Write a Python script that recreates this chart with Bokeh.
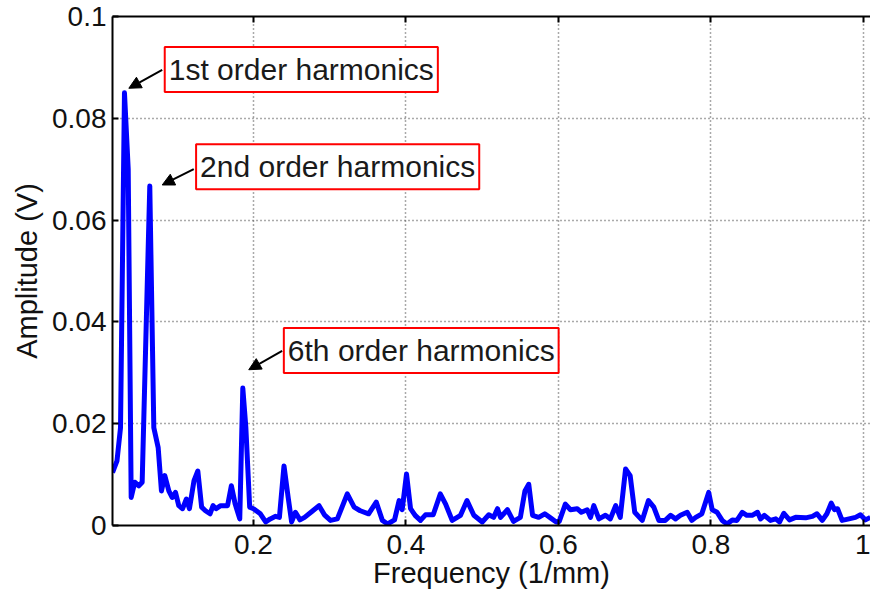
from bokeh.plotting import figure
from bokeh.models import Range1d, FixedTicker, LinearAxis, Label, Arrow, NormalHead
from bokeh.embed import file_html
from bokeh.resources import INLINE

# ---- data ----
freq = [0.0151, 0.021, 0.0256, 0.0308, 0.0357, 0.0396, 0.0443, 0.0496, 0.054, 0.064,
        0.0693, 0.075, 0.0793, 0.0837, 0.089, 0.0933, 0.0977, 0.102, 0.107, 0.112,
        0.116, 0.122, 0.127, 0.132, 0.137, 0.143, 0.147, 0.151, 0.157, 0.166,
        0.171, 0.176, 0.182, 0.186, 0.190, 0.195, 0.200, 0.209, 0.216, 0.222,
        0.229, 0.234, 0.240, 0.2455, 0.250, 0.255, 0.261, 0.267, 0.277, 0.286,
        0.293, 0.301, 0.310, 0.323, 0.332, 0.340, 0.351, 0.361, 0.369, 0.376,
        0.385, 0.391, 0.395, 0.4007, 0.406, 0.412, 0.419, 0.4256, 0.4357, 0.445,
        0.452, 0.4606, 0.4715, 0.480, 0.489, 0.500, 0.5086, 0.515, 0.520, 0.524,
        0.533, 0.541, 0.550, 0.556, 0.561, 0.566, 0.574, 0.582, 0.5895, 0.597,
        0.601, 0.609, 0.6157, 0.6245, 0.630, 0.6377, 0.642, 0.6463, 0.653, 0.6616,
        0.668, 0.675, 0.681, 0.688, 0.694, 0.700, 0.7098, 0.718, 0.725, 0.7316,
        0.740, 0.747, 0.7535, 0.760, 0.7688, 0.775, 0.780, 0.788, 0.797, 0.8016,
        0.808, 0.8147, 0.821, 0.828, 0.834, 0.841, 0.847, 0.854, 0.861, 0.865,
        0.870, 0.878, 0.885, 0.890, 0.8955, 0.903, 0.911, 0.924, 0.933, 0.939,
        0.946, 0.952, 0.9577, 0.962, 0.966, 0.972, 0.981, 0.9895, 0.996, 1.0026,
        1.009]
amplitude = [0.0104, 0.0127, 0.0192, 0.0850, 0.0700, 0.0055, 0.0085, 0.0078, 0.0085, 0.0667,
             0.0192, 0.0153, 0.0068, 0.0098, 0.0068, 0.0055, 0.0065, 0.0039, 0.0033, 0.0052,
             0.0033, 0.0088, 0.0107, 0.0036, 0.0029, 0.0023, 0.0039, 0.0033, 0.0039, 0.0039,
             0.0078, 0.0042, 0.0013, 0.0270, 0.0192, 0.0036, 0.0033, 0.0023, 0.0007, 0.0013,
             0.0018, 0.0016, 0.0117, 0.0055, 0.0007, 0.0026, 0.0011, 0.0016, 0.0028, 0.0039,
             0.0021, 0.0010, 0.0013, 0.0062, 0.0036, 0.0029, 0.0023, 0.0046, 0.0010, 0.0003,
             0.0011, 0.0049, 0.0031, 0.0101, 0.0033, 0.0020, 0.0010, 0.0021, 0.0021, 0.0062,
             0.0042, 0.0010, 0.0020, 0.0049, 0.0020, 0.0007, 0.0021, 0.0016, 0.0033, 0.0016,
             0.0031, 0.0008, 0.0016, 0.0068, 0.0081, 0.0020, 0.0016, 0.0023, 0.0015, 0.0007,
             0.0008, 0.0042, 0.0031, 0.0033, 0.0026, 0.0031, 0.0016, 0.0039, 0.0013, 0.0020,
             0.0013, 0.0039, 0.0016, 0.0111, 0.0098, 0.0026, 0.0010, 0.0049, 0.0036, 0.0010,
             0.0010, 0.0020, 0.0013, 0.0020, 0.0026, 0.0010, 0.0016, 0.0023, 0.0065, 0.0031,
             0.0026, 0.0010, 0.0003, 0.0011, 0.0010, 0.0026, 0.0020, 0.0020, 0.0026, 0.0013,
             0.0020, 0.0010, 0.0013, 0.0007, 0.0024, 0.0011, 0.0016, 0.0015, 0.0018, 0.0023,
             0.0010, 0.0023, 0.0044, 0.0031, 0.0033, 0.0010, 0.0013, 0.0016, 0.0021, 0.0011,
             0.0016]

x_ticks = [0.2, 0.4, 0.6, 0.8, 1.0]
x_tick_labels = ["0.2", "0.4", "0.6", "0.8", "1"]
y_ticks = [0.0, 0.02, 0.04, 0.06, 0.08, 0.1]
y_tick_labels = ["0", "0.02", "0.04", "0.06", "0.08", "0.1"]

ann_texts = ["1st order harmonics", "2nd order harmonics", "6th order harmonics"]
ann_box_x = [0.2627, 0.3104, 0.4200]
ann_box_y = [0.0896, 0.0705, 0.0344]
arrow_tail_x = [0.0803, 0.1217, 0.2376]
arrow_tail_y = [0.0895, 0.0700, 0.0343]
arrow_head_x = [0.0365, 0.0803, 0.1938]
arrow_head_y = [0.0859, 0.0669, 0.0306]

FONT = "Liberation Sans"
FS = "28px"

p = figure(frame_width=758, frame_height=509,
           x_range=Range1d(0.0151, 1.0092), y_range=Range1d(0, 0.1),
           output_backend="svg", toolbar_location=None,
           min_border_left=112, min_border_top=16, min_border_right=0, min_border_bottom=70)
p.outline_line_color = None
p.background_fill_color = "white"
p.border_fill_color = "white"

p.line(freq, amplitude, line_color="#0000ff", line_width=5, line_join="round")

for ax in (p.xaxis[0], p.yaxis[0]):
    ax.major_label_text_font = FONT
    ax.major_label_text_font_size = FS
    ax.major_label_text_color = "#111111"
    ax.axis_label_text_font = FONT
    ax.axis_label_text_font_size = "29px"
    ax.axis_label_text_font_style = "normal"
    ax.axis_label_text_color = "#111111"
    ax.axis_line_color = "black"
    ax.axis_line_width = 2
    ax.major_tick_line_color = "black"
    ax.major_tick_line_width = 2
    ax.major_tick_in = 6
    ax.major_tick_out = 0
    ax.minor_tick_in = 0
    ax.minor_tick_out = 0

p.xaxis[0].ticker = FixedTicker(ticks=x_ticks)
p.xaxis[0].major_label_overrides = {t: l for t, l in zip(x_ticks, x_tick_labels)}
p.yaxis[0].ticker = FixedTicker(ticks=y_ticks)
p.yaxis[0].major_label_overrides = {t: l for t, l in zip(y_ticks, y_tick_labels)}
p.xaxis[0].axis_label = "Frequency (1/mm)"
p.yaxis[0].axis_label = "Amplitude (V)"
p.xaxis[0].major_label_standoff = 9
p.xaxis[0].axis_label_standoff = 0
p.yaxis[0].major_label_standoff = 6
p.yaxis[0].axis_label_standoff = 6

top = LinearAxis(ticker=FixedTicker(ticks=x_ticks),
                 major_label_overrides={t: "" for t in x_ticks},
                 major_label_standoff=0, axis_line_color="black", axis_line_width=2,
                 major_tick_in=6, major_tick_out=0, minor_tick_in=0, minor_tick_out=0,
                 major_tick_line_color="black", major_tick_line_width=2)
p.add_layout(top, "above")

p.xgrid.ticker = FixedTicker(ticks=x_ticks)
p.ygrid.ticker = FixedTicker(ticks=y_ticks)
for g in (p.xgrid[0], p.ygrid[0]):
    g.grid_line_color = "#555555"
    g.grid_line_dash = "1 3"
    g.grid_line_width = 1.5

for t, bx, by in zip(ann_texts, ann_box_x, ann_box_y):
    p.add_layout(Label(x=bx, y=by, text=t, text_align="center", text_baseline="middle",
                       text_font=FONT, text_font_size="30px", text_color="#1a1a1a",
                       background_fill_color="white", border_line_color="#ff0000",
                       border_line_width=2,
                       padding=dict(left=4, right=4, top=6, bottom=6)))

for tx, ty, hx, hy in zip(arrow_tail_x, arrow_tail_y, arrow_head_x, arrow_head_y):
    p.add_layout(Arrow(x_start=tx, y_start=ty, x_end=hx, y_end=hy,
                       line_color="black", line_width=2,
                       end=NormalHead(size=12, fill_color="black", line_color="black")))

open("out.html", "w").write(file_html(p, INLINE))
